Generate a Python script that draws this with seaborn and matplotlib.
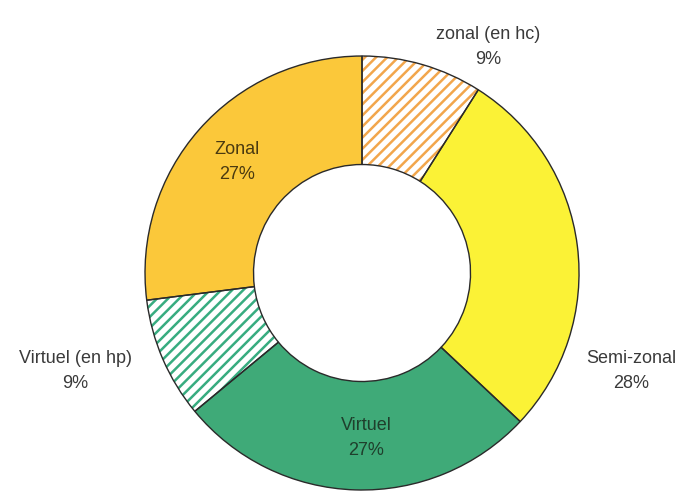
import numpy as np
import matplotlib
matplotlib.use('Agg')
import matplotlib.pyplot as plt
import seaborn as sns

''' DATA '''
labels = ['zonal (en hc)', 'Semi-zonal', 'Virtuel', 'Virtuel (en hp)', 'Zonal']
shares = [9, 28, 27, 9, 27]
colors = ['#FFFFFF', '#FBF236', '#3FAA78', '#FFFFFF', '#FBC83A']
hatch_colors = ['#F2A64C', None, None, '#38AC80', None]
text_colors = ['#3a3a3a', '#3a3a3a', '#1f3f2c', '#3a3a3a', '#4a3a10']
# label anchor (x, y) in pie units
label_pos = [(0.58, 1.04), (1.24, -0.45), (0.02, -0.76), (-1.32, -0.45), (-0.575, 0.51)]

''' STYLE '''
sns.set_theme(style='white')
plt.rcParams['font.family'] = ['Liberation Sans', 'DejaVu Sans']
plt.rcParams['hatch.linewidth'] = 1.8

''' PLOT '''
fig = plt.figure(figsize=(6.85, 4.94), dpi=100)
ax = fig.add_axes([0.2117, 0.0081, 0.6336, 0.8785])

# hatched layer
wedges, _ = ax.pie(shares, colors=colors, startangle=90, counterclock=False,
                   wedgeprops=dict(width=0.5, linewidth=0))
for w, hc in zip(wedges, hatch_colors):
    if hc is not None:
        w.set_hatch('///')
        w.set_edgecolor(hc)

# outlines
ax.pie(shares, colors=['none'] * len(shares), startangle=90, counterclock=False,
       wedgeprops=dict(width=0.5, linewidth=1.0, edgecolor='#2a2a2a'))

for lab, val, (x, y), tc in zip(labels, shares, label_pos, text_colors):
    ax.text(x, y, lab + '\n' + str(val) + '%', ha='center', va='center',
            fontsize=13, color=tc, linespacing=1.6)

ax.set_aspect('auto')
ax.set_xlim(-1, 1)
ax.set_ylim(-1, 1)
ax.axis('off')

fig.savefig('out.png', dpi=100)
